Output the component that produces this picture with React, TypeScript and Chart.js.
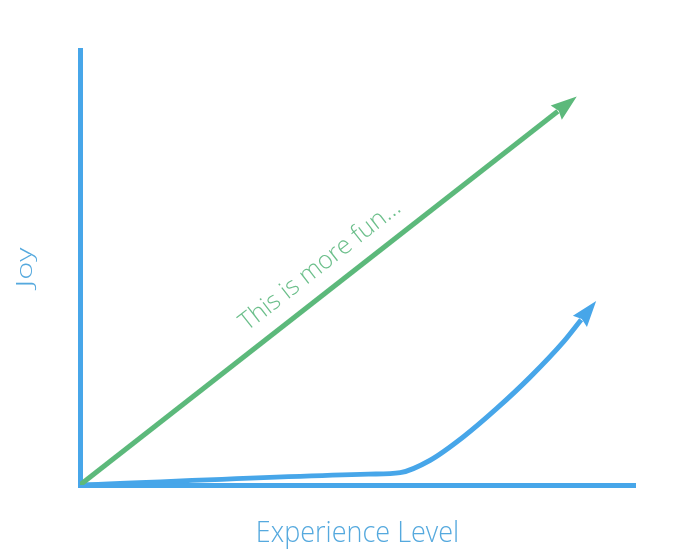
import React, { useEffect, useRef } from "react";
import { Chart, registerables } from "chart.js";

Chart.register(...registerables);

// ---- data ----
const xTitle = "Experience Level";
const yTitle = "Joy";
const annotationText = "This is more fun...";

const funX = [0, 86.1];
const funY = [0, 85.9];

const joyX = [0, 52, 57.7, 63.1, 69.1, 75.1, 81.1, 87.1, 90.3];
const joyY = [0, 2.5, 2.85, 5.7, 11.1, 17.6, 24.8, 32.9, 38.0];

// ---- styles ----
const BLUE = "#47a6e9";
const GREEN = "#5cb97b";
const TEXT_BLUE = "#55a9de";
const TEXT_GREEN = "#6cbf8b";
const FONT = '"Open Sans", "Noto Sans", sans-serif';

const arrowPlugin = {
  id: "arrowHeads",
  afterDatasetsDraw(chart: any) {
    const ctx = chart.ctx;
    chart.data.datasets.forEach((ds: any, i: number) => {
      const pts = chart.getDatasetMeta(i).data;
      const n = pts.length;
      if (n < 2) return;
      const a = pts[n - 2];
      const b = pts[n - 1];
      const dx = b.x - a.x;
      const dy = b.y - a.y;
      const len = Math.hypot(dx, dy) || 1;
      const ux = dx / len;
      const uy = dy / len;
      const L = 26;
      const W = 9;
      const bx = b.x - ux * 2;
      const by = b.y - uy * 2;
      ctx.save();
      ctx.fillStyle = ds.borderColor;
      ctx.beginPath();
      ctx.moveTo(bx + ux * L, by + uy * L);
      ctx.lineTo(bx - uy * W, by + ux * W);
      ctx.lineTo(bx + ux * 3, by + uy * 3);
      ctx.lineTo(bx + uy * W, by - ux * W);
      ctx.closePath();
      ctx.fill();
      ctx.restore();
    });
  },
};

const textPlugin = {
  id: "texts",
  afterDatasetsDraw(chart: any) {
    const { ctx, chartArea } = chart;
    const { left, right, top, bottom } = chartArea;

    // x axis title
    ctx.save();
    ctx.fillStyle = TEXT_BLUE;
    ctx.font = `300 30px ${FONT}`;
    ctx.textAlign = "center";
    ctx.textBaseline = "alphabetic";
    ctx.translate((left + right) / 2, bottom + 57);
    ctx.scale(0.9, 1);
    ctx.fillText(xTitle, 0, 0);
    ctx.restore();

    // y axis title
    ctx.save();
    ctx.fillStyle = TEXT_BLUE;
    ctx.font = `300 22px ${FONT}`;
    ctx.textAlign = "center";
    ctx.textBaseline = "alphabetic";
    ctx.translate(left - 48, (top + bottom) / 2);
    ctx.rotate(-Math.PI / 2);
    ctx.scale(1.4, 1);
    ctx.fillText(yTitle, 0, 0);
    ctx.restore();

    // annotation along the green line
    const pts = chart.getDatasetMeta(0).data;
    const p0 = pts[0];
    const p1 = pts[pts.length - 1];
    const ang = Math.atan2(p1.y - p0.y, p1.x - p0.x);
    const t = 0.535;
    const cx = p0.x + (p1.x - p0.x) * t;
    const cy = p0.y + (p1.y - p0.y) * t;
    const nx = Math.sin(ang);
    const ny = -Math.cos(ang);
    const off = 18;
    ctx.save();
    ctx.fillStyle = TEXT_GREEN;
    ctx.font = `300 25px ${FONT}`;
    ctx.textAlign = "center";
    ctx.textBaseline = "alphabetic";
    ctx.translate(cx + nx * off, cy + ny * off);
    ctx.rotate(ang);
    ctx.fillText(annotationText, 0, 0);
    ctx.restore();
  },
};

export default function App() {
  const ref = useRef<HTMLCanvasElement | null>(null);

  useEffect(() => {
    if (!ref.current) return;
    const axisStyle = {
      type: "linear" as const,
      min: 0,
      max: 100,
      grid: { display: false, drawTicks: false, tickLength: 0 },
      ticks: { display: false },
      border: { display: true, color: BLUE, width: 5 },
    };
    const chart = new Chart(ref.current, {
      type: "line",
      data: {
        datasets: [
          {
            label: "fun",
            data: funX.map((x, i) => ({ x, y: funY[i] })),
            borderColor: GREEN,
            borderWidth: 5,
            pointRadius: 0,
            tension: 0,
          },
          {
            label: "joy",
            data: joyX.map((x, i) => ({ x, y: joyY[i] })),
            borderColor: BLUE,
            borderWidth: 5,
            pointRadius: 0,
            cubicInterpolationMode: "monotone",
          },
        ],
      },
      options: {
        animation: false,
        responsive: false,
        layout: { padding: { left: 80, right: 38, top: 50, bottom: 75 } },
        plugins: {
          legend: { display: false },
          tooltip: { enabled: false },
        },
        scales: {
          x: axisStyle,
          y: axisStyle,
        },
      },
      plugins: [arrowPlugin, textPlugin],
    } as any);
    return () => chart.destroy();
  }, []);

  return (
    <div style={{ position: "absolute", left: 0, top: 0, width: 673, height: 560, background: "#fff" }}>
      <canvas ref={ref} width={673} height={560} />
    </div>
  );
}
